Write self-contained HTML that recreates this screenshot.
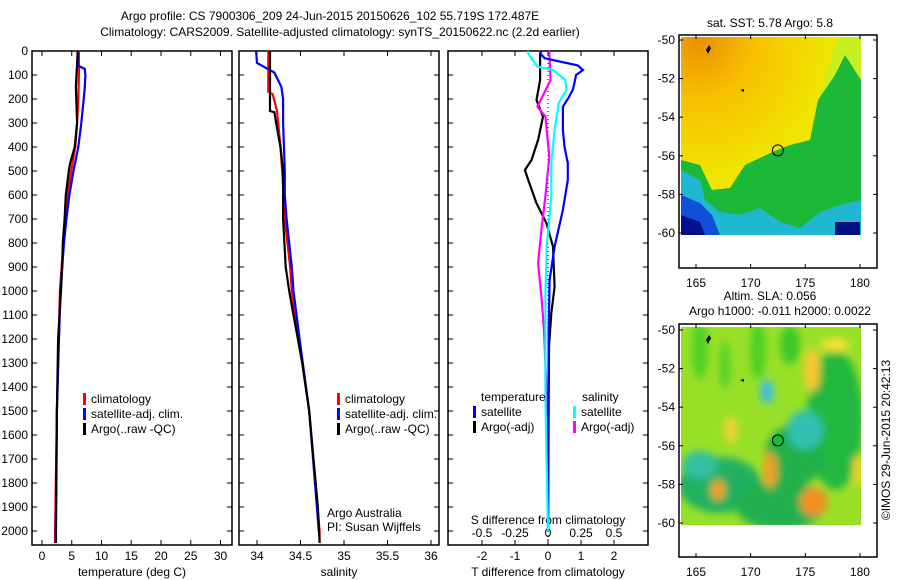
<!DOCTYPE html>
<html><head><meta charset="utf-8"><style>
html,body{margin:0;padding:0;background:#fff;}
svg{display:block;font-family:"Liberation Sans",sans-serif;}
</style></head><body>
<svg id="c" width="900" height="580" viewBox="0 0 900 580"></svg>
<script>
// ---------- data ----------
const depthTicks=[0,100,200,300,400,500,600,700,800,900,1000,1100,1200,1300,1400,1500,1600,1700,1800,1900,2000];
const tempTicks=[0,5,10,15,20,25,30];
const salTicks=[34,34.5,35,35.5,36];
const tdiffTicks=[-2,-1,0,1,2];
const sdiffTicks=[-0.5,-0.25,0,0.25,0.5];
const lonTicks=[165,170,175,180];
const latTicks=[-50,-52,-54,-56,-58,-60];

const tClimD=[0,100,200,300,400,500,600,700,800,900,1000,1200,1500,2000,2050];
const tClimV=[6.2,6.2,6.1,5.9,5.6,4.9,4.3,3.9,3.6,3.3,3.0,2.8,2.5,2.2,2.2];
const tSatD=[0,60,75,100,150,200,300,400,500,600,700,800,900,1000,1500,2000,2050];
const tSatV=[6.0,6.0,7.2,7.3,7.2,7.0,6.6,6.1,5.3,4.6,4.1,3.7,3.4,3.1,2.5,2.3,2.3];
const tArgoD=[0,150,300,400,470,500,600,700,800,900,1000,1200,1500,2000,2050];
const tArgoV=[6.0,5.7,5.9,5.5,4.7,4.5,4.0,3.8,3.5,3.4,3.2,2.7,2.5,2.35,2.35];

const sClimD=[0,170,180,250,400,500,700,900,1000,1200,1500,2000,2050];
const sClimV=[34.13,34.13,34.18,34.23,34.27,34.29,34.32,34.38,34.40,34.48,34.60,34.72,34.72];
const sSatD=[0,50,70,90,150,200,300,500,600,700,900,1000,1200,1500,2000];
const sSatV=[33.99,34.0,34.1,34.2,34.28,34.30,34.30,34.32,34.32,34.34,34.40,34.42,34.49,34.60,34.71];
const sArgoD=[0,250,255,300,400,500,700,900,1000,1100,1200,1300,1400,1500,1700,1900,2050];
const sArgoV=[34.15,34.15,34.2,34.22,34.27,34.30,34.30,34.33,34.37,34.42,34.47,34.52,34.56,34.60,34.65,34.70,34.72];

const dtSatD=[0,10,30,60,79,100,121,162,200,232,329,400,467,537,662,815,954,1162,2000];
const dtSatV=[-0.2,-0.24,-0.1,0.9,1.06,0.85,0.82,0.75,0.6,0.45,0.45,0.5,0.6,0.6,0.45,0.2,0.05,0.02,0.0];
const dtArgoD=[0,10,121,204,273,371,454,496,537,634,717,815,982,1093,1232,2000];
const dtArgoV=[-0.2,-0.24,-0.24,-0.35,-0.15,-0.3,-0.5,-0.7,-0.6,-0.35,-0.05,0.15,0.2,0.1,0.03,0.0];
const dsSatD=[0,10,65,79,121,162,218,329,467,606,815,1023,1440,2000];
const dsSatV=[-0.15,-0.15,-0.08,0.04,0.13,0.14,0.08,0.05,0.025,0.025,-0.01,-0.02,-0.02,0.0];
const dsArgoD=[0,10,121,232,273,440,606,745,885,1023,1162,1301,1440,2000];
const dsArgoV=[0.01,0.01,0.02,-0.08,-0.02,0.01,-0.02,-0.05,-0.075,-0.05,-0.03,-0.02,-0.01,0.0];

// ---------- helpers ----------
const S=document.getElementById('c');const NS='http://www.w3.org/2000/svg';
function el(t,a,p){const e=document.createElementNS(NS,t);for(const k in a)e.setAttribute(k,a[k]);(p||S).appendChild(e);return e;}
function txt(x,y,s,o){o=o||{};const e=el('text',{x:x,y:y,'font-size':o.fs||12,'text-anchor':o.a||'middle',fill:'#000'});if(o.rot)e.setAttribute('transform',o.rot);e.textContent=s;return e;}
const top0=51, pxPer100=24;
const yD=d=>top0+d*pxPer100/100;
const xT=v=>42+v*5.95;
const xS=v=>257+(v-34)*87;
const xDT=v=>548+v*33;
const xDS=v=>548+v*132;
function stepPath(D,V,fx){let p='';for(let i=0;i<D.length;i++){const x=fx(V[i]).toFixed(1),y=yD(D[i]).toFixed(1);if(i===0)p='M'+x+' '+y;else{p+=' L'+x+' '+y;}}return p;}
function series(D,V,fx,col,name){const e=el('path',{d:stepPath(D,V,fx),fill:'none',stroke:col,'stroke-width':2.2,'stroke-linejoin':'miter'});}
function panel(x0,x1,name){const g=el('rect',{x:x0,y:top0,width:x1-x0,height:545-top0,fill:'none',stroke:'#000','stroke-width':1.5});}
function depthTicksAt(x0,x1){depthTicks.forEach(d=>{el('line',{x1:x0,x2:x0+5,y1:yD(d),y2:yD(d),stroke:'#000'});el('line',{x1:x1-5,x2:x1,y1:yD(d),y2:yD(d),stroke:'#000'});});}
function xTicks(ticks,fx,labels,ylab){ticks.forEach((t,i)=>{const x=fx(t);el('line',{x1:x,x2:x,y1:top0,y2:top0+5,stroke:'#000'});el('line',{x1:x,x2:x,y1:540,y2:545,stroke:'#000'});const e=txt(x,ylab,labels[i]);});}

// titles
let t=txt(330,20,'Argo profile: CS 7900306_209 24-Jun-2015 20150626_102 55.719S 172.487E');
t=txt(340,36,'Climatology: CARS2009. Satellite-adjusted climatology: synTS_20150622.nc (2.2d earlier)');

// panel 1
panel(32,232,'temperature-panel');depthTicksAt(32,232);
depthTicks.forEach(d=>{const e=txt(28,yD(d)+4,String(d),{a:'end'});});
xTicks(tempTicks,xT,tempTicks.map(String),560);
t=txt(132,576,'temperature (deg C)');
series(tClimD,tClimV,xT,'#f00','temp-climatology-line');
series(tSatD,tSatV,xT,'#00f','temp-satellite-line');
series(tArgoD,tArgoV,xT,'#000','temp-argo-line');
function legend(x,y,items,name){const g=el('g',{});items.forEach((it,i)=>{el('rect',{x:x,y:y+i*15-10,width:3,height:12,fill:it[1]},g);el('text',{x:x+8,y:y+i*15,'font-size':12},g).textContent=it[0];});}
legend(83,403,[['climatology','#f00'],['satellite-adj. clim.','#00f'],['Argo(..raw -QC)','#000']],'temperature-legend');

// panel 2
panel(239,439,'salinity-panel');depthTicksAt(239,439);
xTicks(salTicks,xS,['34','34.5','35','35.5','36'],560);
t=txt(339,576,'salinity');
series(sClimD,sClimV,xS,'#f00','sal-climatology-line');
series(sSatD,sSatV,xS,'#00f','sal-satellite-line');
series(sArgoD,sArgoV,xS,'#000','sal-argo-line');
legend(337,403,[['climatology','#f00'],['satellite-adj. clim.','#00f'],['Argo(..raw -QC)','#000']],'salinity-legend');
t=txt(327,517,'Argo Australia',{a:'start'});
t=txt(327,531,'PI: Susan Wijffels',{a:'start'});

// panel 3
panel(448,648,'difference-panel');depthTicksAt(448,648);
xTicks(tdiffTicks,xDT,['-2','-1','0','1','2'],560);
sdiffTicks.forEach(v=>{const x=xDS(v);el('line',{x1:x,x2:x,y1:top0,y2:top0+5,stroke:'#000'});});
sdiffTicks.forEach(v=>{const e=txt(xDS(v),537,String(v));});
t=txt(548,524,'S difference from climatology');
t=txt(548,576,'T difference from climatology');
el('line',{x1:548,x2:548,y1:top0,y2:545,stroke:'#000','stroke-dasharray':'1,3'});
series(dtArgoD,dtArgoV,xDT,'#000','tdiff-argo-line');
series(dsArgoD,dsArgoV,xDS,'#f0f','sdiff-argo-line');
series(dtSatD,dtSatV,xDT,'#00f','tdiff-satellite-line');
series(dsSatD,dsSatV,xDS,'#0ff','sdiff-satellite-line');
(function(){const g=el('g',{});
el('text',{x:481,y:401,'font-size':12},g).textContent='temperature';
el('text',{x:582,y:401,'font-size':12},g).textContent='salinity';
[['satellite','#00f',473],['Argo(-adj)','#000',473]].forEach((it,i)=>{el('rect',{x:it[2],y:406+i*15,width:3,height:12,fill:it[1]},g);el('text',{x:it[2]+8,y:416+i*15,'font-size':12},g).textContent=it[0];});
[['satellite','#0ff',573],['Argo(-adj)','#f0f',573]].forEach((it,i)=>{el('rect',{x:it[2],y:406+i*15,width:3,height:12,fill:it[1]},g);el('text',{x:it[2]+8,y:416+i*15,'font-size':12},g).textContent=it[0];});})();

// ---------- maps ----------
const xL=v=>696+(v-165)*10.93;
function mapFrame(y0,ylat,name){const g=el('rect',{x:679,y:y0,width:198,height:233,fill:'none',stroke:'#000','stroke-width':1.5});
lonTicks.forEach(v=>{const x=xL(v);el('line',{x1:x,x2:x,y1:y0,y2:y0+4,stroke:'#000'});el('line',{x1:x,x2:x,y1:y0+229,y2:y0+233,stroke:'#000'});const e=txt(x,y0+252,String(v));});
latTicks.forEach(v=>{const y=ylat(v);el('line',{x1:679,x2:683,y1:y,y2:y,stroke:'#000'});el('line',{x1:873,x2:877,y1:y,y2:y,stroke:'#000'});const e=txt(675,y+4,String(v),{a:'end'});});}
// SST map
const yA=v=>40+(-50-v)*19.3;
(function(){const g=el('g',{});
const d=el('defs',{});const lg=el('radialGradient',{id:'og',cx:0.1,cy:0,r:0.7},d);el('stop',{offset:0,'stop-color':'#e89000'},lg);el('stop',{offset:0.45,'stop-color':'#f8c000'},lg);el('stop',{offset:1,'stop-color':'#f0e400'},lg);
el('rect',{x:681,y:37,width:180,height:198,fill:'url(#og)'},g);
el('polygon',{points:'838,37 861,37 861,140 815,110',fill:'#c8f020'},g);
el('polygon',{points:'681,160 700,165 712,190 730,188 745,165 770,153 790,145 810,140 818,100 835,75 845,55 861,80 861,235 681,235',fill:'#1cb838'},g);
el('polygon',{points:'681,170 700,180 705,200 720,212 740,215 760,208 780,222 800,228 820,212 840,205 861,200 861,235 681,235',fill:'#20b8d0'},g);
el('polygon',{points:'681,195 700,203 712,215 720,235 681,235',fill:'#1050d8'},g);
el('polygon',{points:'681,215 700,222 705,235 681,235',fill:'#001090'},g);
el('rect',{x:835,y:222,width:25,height:13,fill:'#001080'},g);
el('path',{d:'M706 50 l3 -5 l2 3 l-3 6 z M740 90 l4 -1 l0 3 z',fill:'#000'},g);
el('circle',{cx:xL(172.49),cy:yA(-55.72),r:5.5,fill:'none',stroke:'#000'},g);})();
mapFrame(35,yA,'sst-map-frame');
t=txt(770,27,'sat. SST: 5.78 Argo: 5.8');
// SLA map
const yB=v=>330+(-50-v)*19.3;
(function(){const g=el('g',{});
const d=el('defs',{});const f=el('filter',{id:'bl'},d);el('feGaussianBlur',{stdDeviation:4},f);
const cp=el('clipPath',{id:'cp'},d);el('rect',{x:681,y:327,width:180,height:198},cp);
const gg=el('g',{'clip-path':'url(#cp)'},g);
el('rect',{x:681,y:327,width:180,height:198,fill:'#98e028'},gg);
const blobs=[[700,350,8,30,'#50d020'],[725,365,5,25,'#50d020'],[758,350,8,30,'#50d020'],[790,345,10,20,'#40c828'],[835,420,28,70,'#20b840'],[795,455,30,30,'#20b048'],[720,485,42,28,'#20b060'],[700,465,18,14,'#30c0a0'],[780,505,45,25,'#20b050'],[805,430,18,20,'#30c0b0'],[767,392,7,12,'#40c0e0'],[812,370,8,22,'#f8c830'],[731,430,6,14,'#f8d030'],[770,470,7,18,'#f0a020'],[718,490,7,10,'#f0a020'],[814,502,14,14,'#f09020'],[858,470,5,15,'#f8d030'],[835,345,14,7,'#f8e030']];
const bg=el('g',{filter:'url(#bl)'},gg);
blobs.forEach(b=>el('ellipse',{cx:b[0],cy:b[1],rx:b[2],ry:b[3],fill:b[4]},bg));
el('path',{d:'M706 340 l3 -5 l2 3 l-3 6 z M740 380 l4 -1 l0 3 z',fill:'#000'},g);
el('circle',{cx:xL(172.49),cy:yB(-55.72),r:5.5,fill:'#1cb838',stroke:'#000'},g);})();
mapFrame(324,yB,'sla-map-frame');
t=txt(770,300,'Altim. SLA: 0.056');
t=txt(780,315,'Argo h1000: -0.011 h2000: 0.0022');
t=txt(890,440,'©IMOS 29-Jun-2015 20:42:13',{rot:'rotate(-90 890 440)'});
</script>
</body></html>
